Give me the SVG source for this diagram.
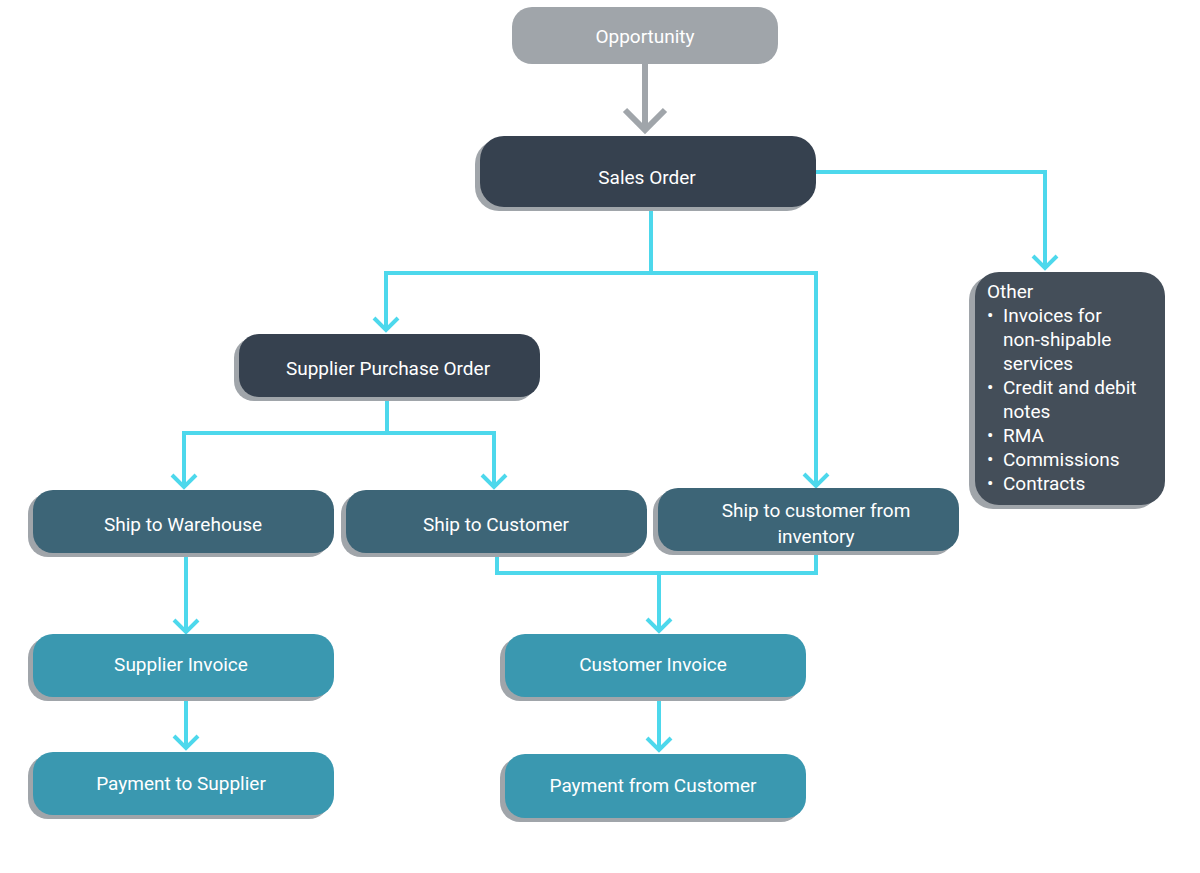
<svg xmlns="http://www.w3.org/2000/svg" width="1200" height="873" viewBox="0 0 1200 873">
<style>
.sh{fill:#a0a5aa}
.t{font-family:Roboto,"Liberation Sans",sans-serif;fill:#fff;text-anchor:middle;font-size:19px}
.c{fill:none;stroke:#4dd8ec;stroke-width:4}
.g{fill:none;stroke:#a0a5aa;stroke-width:6}
.d{fill:#36414f}.m{fill:#3d6577}.l{fill:#3a98b0}
</style>
<rect width="1200" height="873" fill="#fff"/>
<g id="connectors">
<path class="g" d="M645 64V130M625 110L645 130L665 110"/>
<path class="c" d="M816 172H1045V268M1033 256L1045 268L1057 256"/>
<path class="c" d="M651 207V273M386 330V273H816V486M374 318L386 330L398 318M804 474L816 486L828 474"/>
<path class="c" d="M387 397V433M184 487V433H494V487M172 475L184 487L196 475M482 475L494 487L506 475"/>
<path class="c" d="M186 553V632M174 620L186 632L198 620"/>
<path class="c" d="M497 553V573H816V551M659 573V631M647 619L659 631L671 619"/>
<path class="c" d="M186 697V748M174 736L186 748L198 736"/>
<path class="c" d="M659 697V750M647 738L659 750L671 738"/>
</g>
<g id="opportunity"><rect x="512" y="7" width="266" height="57" rx="20" fill="#a0a5aa"/><text class="t" x="645" y="43" font-size="22">Opportunity</text></g>
<g id="sales-order"><rect class="sh" x="475" y="140" width="336" height="71" rx="24"/><rect class="d" x="480" y="136" width="336" height="71" rx="24"/><text class="t" x="647" y="184" font-size="29">Sales Order</text></g>
<g id="other"><rect class="sh" x="969" y="276" width="190" height="233" rx="24"/><rect x="975" y="272" width="190" height="233" rx="24" fill="#444e59"/>
<text font-family="Roboto,'Liberation Sans',sans-serif" font-size="19" fill="#fff">
<tspan x="987" y="298">Other</tspan>
<tspan x="987" y="322">•</tspan><tspan x="1003" y="322">Invoices for</tspan>
<tspan x="1003" y="346">non-shipable</tspan>
<tspan x="1003" y="370">services</tspan>
<tspan x="987" y="394">•</tspan><tspan x="1003" y="394">Credit and debit</tspan>
<tspan x="1003" y="418">notes</tspan>
<tspan x="987" y="442">•</tspan><tspan x="1003" y="442">RMA</tspan>
<tspan x="987" y="466">•</tspan><tspan x="1003" y="466">Commissions</tspan>
<tspan x="987" y="490">•</tspan><tspan x="1003" y="490">Contracts</tspan>
</text></g>
<g id="supplier-po"><rect class="sh" x="234" y="338" width="301" height="63" rx="20"/><rect class="d" x="239" y="334" width="301" height="63" rx="20"/><text class="t" x="388" y="375">Supplier Purchase Order</text></g>
<g id="ship-warehouse"><rect class="sh" x="28" y="494" width="301" height="63" rx="20"/><rect class="m" x="33" y="490" width="301" height="63" rx="20"/><text class="t" x="183" y="531">Ship to Warehouse</text></g>
<g id="ship-customer"><rect class="sh" x="341" y="494" width="301" height="63" rx="20"/><rect class="m" x="346" y="490" width="301" height="63" rx="20"/><text class="t" x="496" y="531">Ship to Customer</text></g>
<g id="ship-inventory"><rect class="sh" x="653" y="492" width="301" height="63" rx="20"/><rect class="m" x="658" y="488" width="301" height="63" rx="20"/><text class="t" x="816" y="517">Ship to customer from</text><text class="t" x="816" y="543">inventory</text></g>
<g id="supplier-invoice"><rect class="sh" x="28" y="638" width="301" height="63" rx="20"/><rect class="l" x="33" y="634" width="301" height="63" rx="20"/><text class="t" x="181" y="671">Supplier Invoice</text></g>
<g id="customer-invoice"><rect class="sh" x="500" y="638" width="301" height="63" rx="20"/><rect class="l" x="505" y="634" width="301" height="63" rx="20"/><text class="t" x="653" y="671">Customer Invoice</text></g>
<g id="payment-supplier"><rect class="sh" x="28" y="756" width="301" height="63" rx="20"/><rect class="l" x="33" y="752" width="301" height="63" rx="20"/><text class="t" x="181" y="790">Payment to Supplier</text></g>
<g id="payment-customer"><rect class="sh" x="500" y="758" width="301" height="64" rx="20"/><rect class="l" x="505" y="754" width="301" height="64" rx="20"/><text class="t" x="653" y="792">Payment from Customer</text></g>
</svg>
